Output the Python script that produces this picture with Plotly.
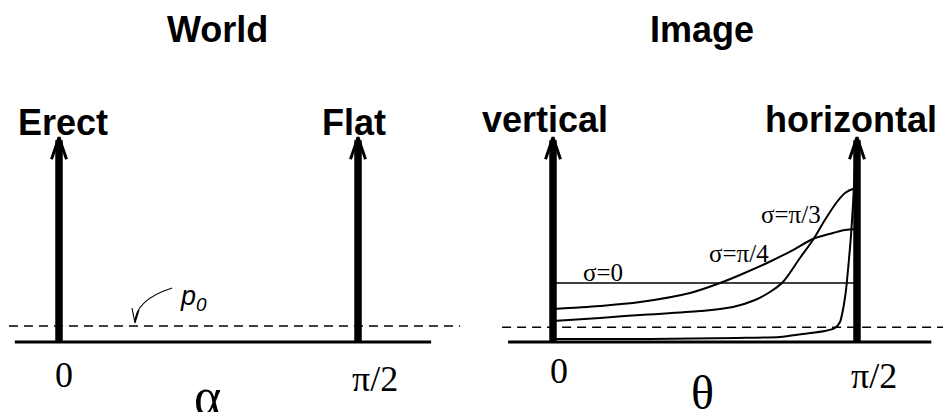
import math
import plotly.graph_objects as go

HALF_PI = math.pi / 2

# Density axis: baseline at 0, uniform image density (sigma = 0) at 1.0
P0 = 0.27                 # prior floor p0 (dashed line)
ARROW_TOP = 3.47          # height drawn for the delta-function arrows
SIGMA0_LEVEL = 1.0

# World panel: delta masses at alpha = 0 (erect) and alpha = pi/2 (flat)
WORLD_ARROW_X = [0.0, HALF_PI]
WORLD_ARROW_LABELS = ["Erect", "Flat"]

# Image panel: delta masses at theta = 0 (vertical) and theta = pi/2 (horizontal)
IMAGE_ARROW_X = [0.0, HALF_PI]
IMAGE_ARROW_LABELS = ["vertical", "horizontal"]

# Image-slant densities for different tilt spreads
THETA_PI4 = [0.0, 0.243, 0.450, 0.708, 0.863, 0.966, 1.106, 1.240, 1.343, 1.447, 1.509, 1.571]
DENS_PI4 = [0.559, 0.610, 0.678, 0.831, 1.000, 1.136, 1.339, 1.559, 1.746, 1.847, 1.898, 1.915]

THETA_PI3 = [0.0, 0.243, 0.450, 0.760, 0.930, 1.044, 1.121, 1.188, 1.276, 1.343, 1.405,
             1.467, 1.509, 1.550, 1.571]
DENS_PI3 = [0.356, 0.407, 0.458, 0.525, 0.593, 0.712, 0.847, 1.017, 1.424, 1.729, 2.068,
            2.373, 2.525, 2.593, 2.593]

THETA_STEEP = [0.0, 0.501, 0.951, 1.173, 1.292, 1.405, 1.457, 1.483, 1.498, 1.514, 1.529,
               1.540, 1.550, 1.560]
DENS_STEEP = [0.051, 0.051, 0.068, 0.085, 0.136, 0.186, 0.237, 0.339, 0.542, 0.881, 1.390,
              1.814, 2.322, 2.949]

AXIS_SPAN = [-0.232, 1.955]      # solid baseline extent
DASH_SPAN = [-0.263, 2.107]      # dashed p0 extent

# Axis ranges (x in radians, y in density units)
X1_RANGE = [-0.310, 2.167]
X2_RANGE = [-0.4211, 2.0152]
Y_RANGE = [-1.1864, 5.7966]
PX_PER_UNIT_X1 = 190.35
PX_PER_UNIT_X2 = 193.53
PX_PER_UNIT_Y = 59.0

SANS = "Liberation Sans, Arial, sans-serif"
SERIF = "Liberation Serif, Times New Roman, serif"
BLACK = "#000000"

fig = go.Figure()


def add_line(xs, ys, xa, ya, width, dash="solid", shape="linear", smoothing=1.0):
    fig.add_trace(go.Scatter(
        x=xs, y=ys, xaxis=xa, yaxis=ya, mode="lines",
        line=dict(color=BLACK, width=width, dash=dash, shape=shape, smoothing=smoothing),
        hoverinfo="skip", showlegend=False,
    ))


def add_delta_arrow(x0, xa, ya, px_per_unit_x):
    head_dx = 7.5 / px_per_unit_x
    head_dy = 22 / PX_PER_UNIT_Y
    shaft_top = ARROW_TOP - 3 / PX_PER_UNIT_Y
    add_line([x0, x0], [0, shaft_top], xa, ya, 7.5)
    add_line([x0 - head_dx, x0, x0 + head_dx],
             [ARROW_TOP - head_dy, ARROW_TOP, ARROW_TOP - head_dy], xa, ya, 3)


# ---- World panel ----
add_line(DASH_SPAN, [P0, P0], "x", "y", 1.6, dash="9px,6px")
add_line(AXIS_SPAN, [0, 0], "x", "y", 3)
for xv in WORLD_ARROW_X:
    add_delta_arrow(xv, "x", "y", PX_PER_UNIT_X1)

# ---- Image panel ----
add_line(DASH_SPAN, [P0 - 0.02, P0 - 0.02], "x2", "y2", 1.6, dash="9px,6px")
add_line(AXIS_SPAN, [0, 0], "x2", "y2", 3)
add_line([0, HALF_PI], [SIGMA0_LEVEL, SIGMA0_LEVEL], "x2", "y2", 1.4)
add_line(THETA_PI4, DENS_PI4, "x2", "y2", 2, shape="spline", smoothing=0.9)
add_line(THETA_PI3, DENS_PI3, "x2", "y2", 2, shape="spline", smoothing=0.9)
add_line(THETA_STEEP, DENS_STEEP, "x2", "y2", 2, shape="spline", smoothing=0.7)
for xv in IMAGE_ARROW_X:
    add_delta_arrow(xv, "x2", "y2", PX_PER_UNIT_X2)

# Curved pointer from the p0 label down to the dashed line
P0_PTR_START = (0.594, 0.915)
P0_PTR_CTRL = (0.399, 0.712)
P0_PTR_TIP = (0.399, 0.322)
P0_PTR_WING_L = (0.3835, 0.576)
P0_PTR_WING_R = (0.420, 0.542)
fig.add_shape(
    type="path", xref="x", yref="y",
    path=(f"M {P0_PTR_START[0]},{P0_PTR_START[1]} "
          f"Q {P0_PTR_CTRL[0]},{P0_PTR_CTRL[1]} {P0_PTR_TIP[0]},{P0_PTR_TIP[1]} "
          f"M {P0_PTR_WING_L[0]},{P0_PTR_WING_L[1]} L {P0_PTR_TIP[0]},{P0_PTR_TIP[1]} "
          f"L {P0_PTR_WING_R[0]},{P0_PTR_WING_R[1]}"),
    line=dict(color=BLACK, width=1.1),
)


def label(text, x, y, xref, yref, family, size, **kw):
    fig.add_annotation(text=text, x=x, y=y, xref=xref, yref=yref, showarrow=False,
                       xanchor="center", yanchor="middle",
                       font=dict(family=family, size=size, color=BLACK), **kw)


# Titles
label("<b>World</b>", 0.83, 5.29, "x", "y", SANS, 36)
label("<b>Image</b>", 0.77, 5.29, "x2", "y2", SANS, 36)

# Arrow labels
label(f"<b>{WORLD_ARROW_LABELS[0]}</b>", 0.021, 3.72, "x", "y", SANS, 36)
label(f"<b>{WORLD_ARROW_LABELS[1]}</b>", 1.550, 3.72, "x", "y", SANS, 36)
label(f"<b>{IMAGE_ARROW_LABELS[0]}</b>", -0.041, 3.77, "x2", "y2", SANS, 36)
label(f"<b>{IMAGE_ARROW_LABELS[1]}</b>", 1.540, 3.77, "x2", "y2", SANS, 36)

# Tick labels and axis symbols
label("0", 0.026, -0.56, "x", "y", SERIF, 36)
label("π/2", 1.660, -0.62, "x", "y", SERIF, 36)
label("α", 0.778, -0.92, "x", "y", SERIF, 52)
label("0", 0.031, -0.49, "x2", "y2", SERIF, 36)
label("π/2", 1.659, -0.58, "x2", "y2", SERIF, 36)
label("θ", 0.770, -0.86, "x2", "y2", SERIF, 48)

# Curve labels
label("σ=0", 0.258, 1.17, "x2", "y2", SERIF, 25)
label("σ=π/4", 0.961, 1.50, "x2", "y2", SERIF, 25)
label("σ=π/3", 1.230, 2.16, "x2", "y2", SERIF, 25)

# p0 label
label("<i>p</i><sub><i>0</i></sub>", 0.704, 0.75, "x", "y", SANS, 27)

hidden = dict(visible=False, showgrid=False, zeroline=False, fixedrange=True)
fig.update_layout(
    width=943, height=412,
    margin=dict(l=0, r=0, t=0, b=0),
    paper_bgcolor="white", plot_bgcolor="white",
    showlegend=False,
    xaxis=dict(domain=[0, 0.5], range=X1_RANGE, anchor="y", **hidden),
    yaxis=dict(domain=[0, 1], range=Y_RANGE, anchor="x", **hidden),
    xaxis2=dict(domain=[0.5, 1], range=X2_RANGE, anchor="y2", **hidden),
    yaxis2=dict(domain=[0, 1], range=Y_RANGE, anchor="x2", **hidden),
)

fig.write_html("out.html")
